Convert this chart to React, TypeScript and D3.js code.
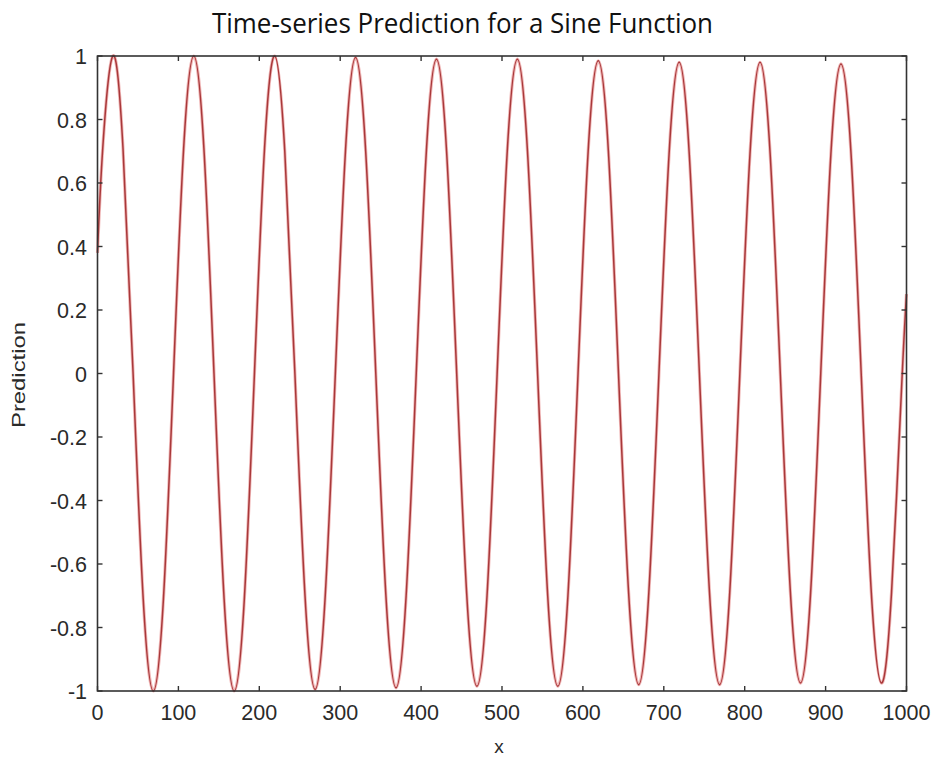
import React from "react";
import * as d3 from "d3";

const xValues: number[] = [
  0, 6.5,
  19, 31.5, 44, 56.5, 69, 81.5, 94, 106.5,
  119, 131.5, 144, 156.5, 169, 181.5, 194, 206.5,
  219, 231.5, 244, 256.5, 269, 281.5, 294, 306.5,
  319, 331.5, 344, 356.5, 369, 381.5, 394, 406.5,
  419, 431.5, 444, 456.5, 469, 481.5, 494, 506.5,
  519, 531.5, 544, 556.5, 569, 581.5, 594, 606.5,
  619, 631.5, 644, 656.5, 669, 681.5, 694, 706.5,
  719, 731.5, 744, 756.5, 769, 781.5, 794, 806.5,
  819, 831.5, 844, 856.5, 869, 881.5, 894, 906.5,
  919, 931.5, 944, 956.5, 969, 981.5, 994, 1000,
];

const yValues: number[] = [
  0.38, 0.71,
  1.0, 0.71, 0.0, -0.71, -1.0, -0.71, 0.0, 0.71,
  1.0, 0.71, 0.0, -0.71, -1.0, -0.71, 0.0, 0.71,
  1.0, 0.70, 0.0, -0.70, -0.995, -0.70, 0.0, 0.70,
  0.995, 0.70, 0.0, -0.70, -0.99, -0.70, 0.0, 0.70,
  0.99, 0.70, 0.0, -0.70, -0.985, -0.70, 0.0, 0.70,
  0.99, 0.70, 0.0, -0.70, -0.985, -0.70, 0.0, 0.70,
  0.985, 0.70, 0.0, -0.69, -0.98, -0.69, 0.0, 0.69,
  0.98, 0.69, 0.0, -0.69, -0.98, -0.69, 0.0, 0.69,
  0.98, 0.69, 0.0, -0.69, -0.975, -0.69, 0.0, 0.69,
  0.975, 0.69, 0.0, -0.69, -0.975, -0.69, -0.04, 0.25,
];

const xTicks: number[] = [0, 100, 200, 300, 400, 500, 600, 700, 800, 900, 1000];
const yTicks: number[] = [-1, -0.8, -0.6, -0.4, -0.2, 0, 0.2, 0.4, 0.6, 0.8, 1];

const titleText = "Time-series Prediction for a Sine Function";
const xLabel = "x";
const yLabel = "Prediction";

export default function App() {
  const W = 937, H = 764;
  const left = 97.5, right = 906.5, top = 56, bottom = 691;
  const x = d3.scaleLinear().domain([0, 1000]).range([left, right]);
  const y = d3.scaleLinear().domain([-1, 1]).range([bottom, top]);
  const pts = xValues.map((v, i) => [v, yValues[i]] as [number, number]);
  const line = d3
    .line<[number, number]>()
    .x((d) => x(d[0]))
    .y((d) => y(d[1]))
    .curve(d3.curveNatural);
  const path = line(pts) || "";
  const tickLen = 5;
  const font = "'Liberation Sans', Arial, sans-serif";
  const fmt = (v: number) => (v === 0 ? "0" : String(+v.toFixed(1)));
  return (
    <svg width={W} height={H} style={{ position: "absolute", left: 0, top: 0, background: "#fff" }}>
      <rect x={0} y={0} width={W} height={H} fill="#fff" />
      <text x={212} y={33} textLength={501} lengthAdjust="spacingAndGlyphs" fontFamily="'Open Sans', 'DejaVu Sans', sans-serif" fontSize={26.5} fill="#111">
        {titleText}
      </text>
      <path d={path} fill="none" stroke="#f0b8b8" strokeWidth={3.2} />
      <path d={path} fill="none" stroke="#a8383a" strokeWidth={1.5} />
      <rect x={left} y={top} width={right - left} height={bottom - top} fill="none" stroke="#333" strokeWidth={1.6} />
      {xTicks.map((t) => (
        <g key={"x" + t}>
          <line x1={x(t)} x2={x(t)} y1={bottom} y2={bottom - tickLen} stroke="#333" strokeWidth={1.4} />
          <line x1={x(t)} x2={x(t)} y1={top} y2={top + tickLen} stroke="#333" strokeWidth={1.4} />
          <text x={x(t)} y={bottom + 29} textAnchor="middle" fontFamily={font} fontSize={21.5} fill="#2a2a2a">
            {t}
          </text>
        </g>
      ))}
      {yTicks.map((t) => (
        <g key={"y" + t}>
          <line x1={left} x2={left + tickLen} y1={y(t)} y2={y(t)} stroke="#333" strokeWidth={1.4} />
          <line x1={right} x2={right - tickLen} y1={y(t)} y2={y(t)} stroke="#333" strokeWidth={1.4} />
          <text x={left - 10.5} y={y(t) + 8} textAnchor="end" fontFamily={font} fontSize={21.5} fill="#2a2a2a">
            {fmt(t)}
          </text>
        </g>
      ))}
      <text x={499} y={753} textAnchor="middle" fontFamily={font} fontSize={19} fill="#2a2a2a">
        {xLabel}
      </text>
      <text transform={`translate(25, 375) rotate(-90)`} textAnchor="middle" textLength={106} lengthAdjust="spacingAndGlyphs" fontFamily={font} fontSize={18.5} fill="#2a2a2a">
        {yLabel}
      </text>
    </svg>
  );
}
